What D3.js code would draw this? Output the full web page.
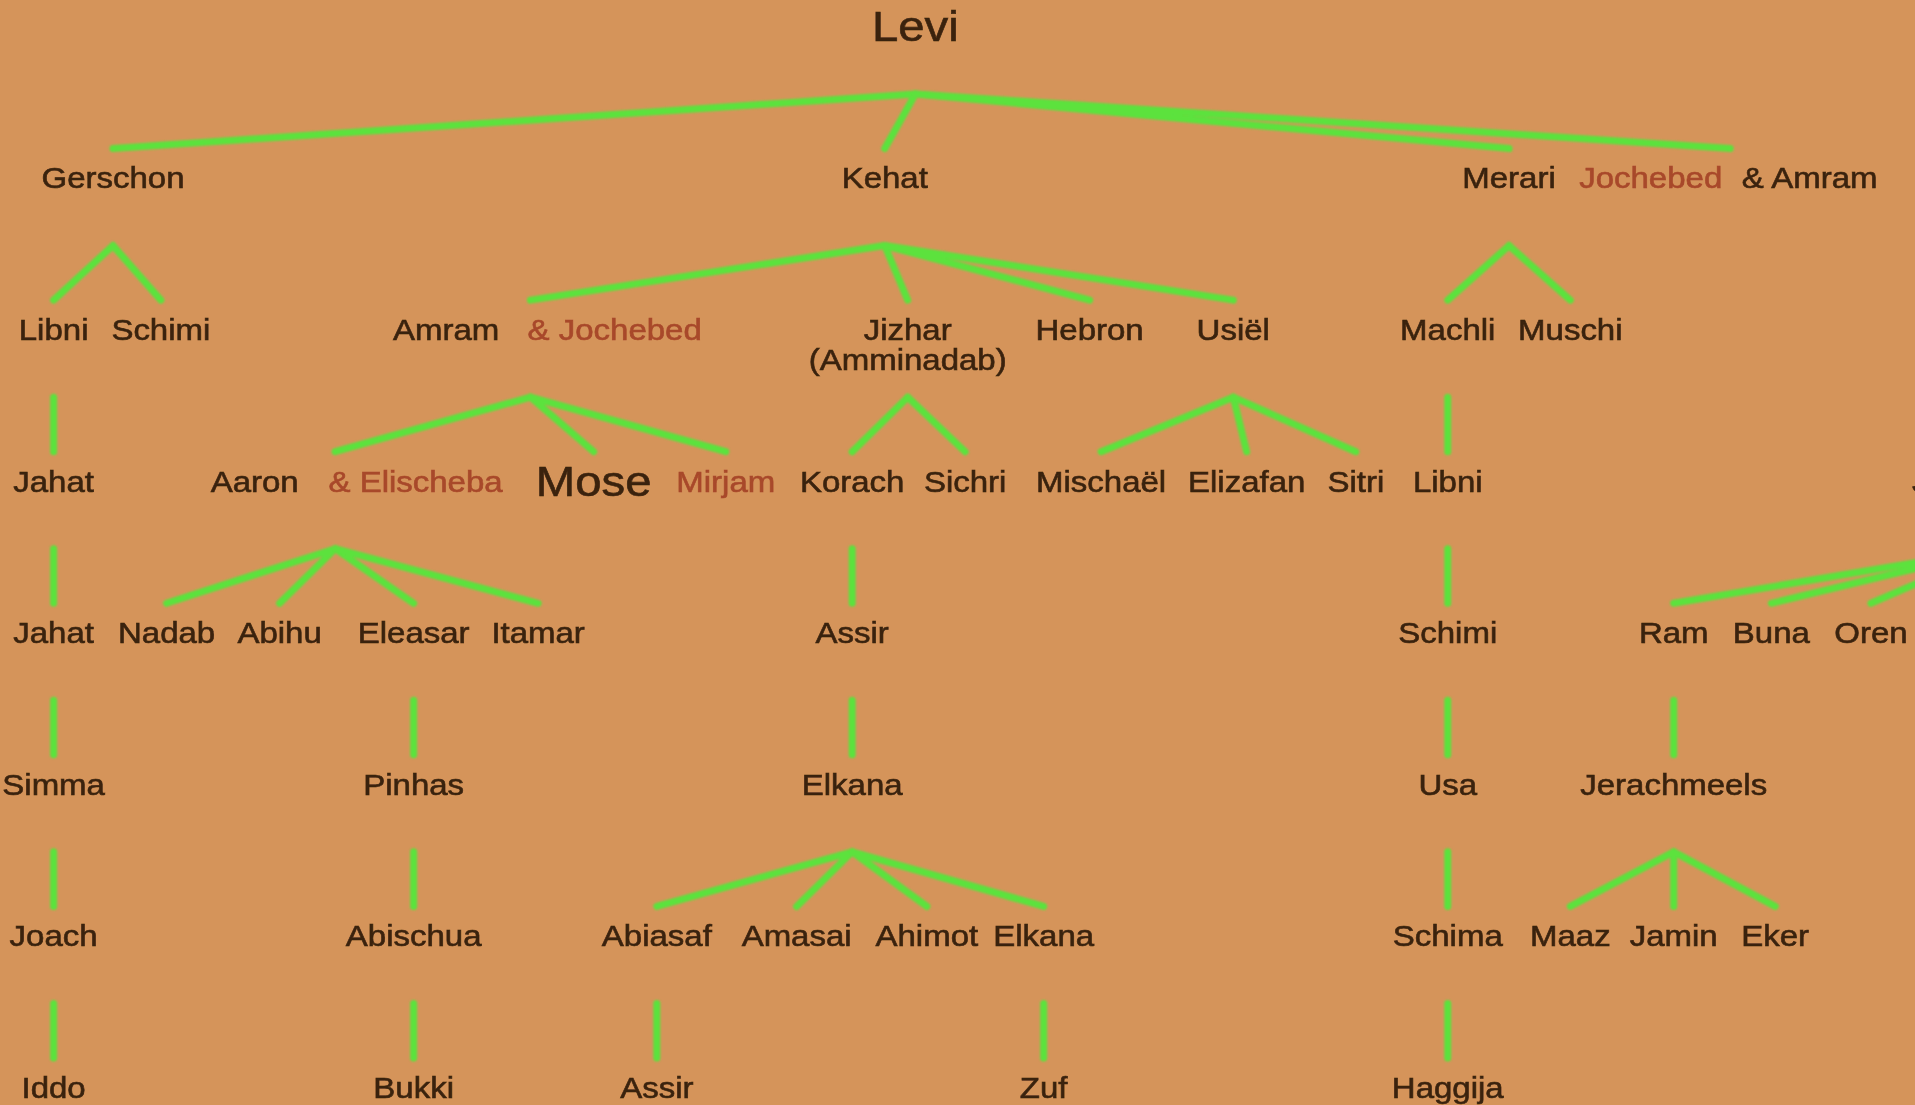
<!DOCTYPE html>
<head>
  <meta charset="utf-8">
  <script src="https://d3js.org/d3.v7.min.js"></script>
  <style>
    body { margin: 0; background: #d5945a; overflow: hidden; }
    text { font-family: "Liberation Sans", Arial, sans-serif; }
  </style>
</head>
<body>
<script>
  // names per generation, and where they sit across the page (0-100)
  var gen0 = ["Levi"];
  var col0 = [47.8];
  var gen1 = ["Gerschon", "Kehat", "Merari", "Jochebed", "& Amram"];
  var col1 = [5.9, 46.2, 78.8, 86.2, 94.5];
  var gen2 = ["Libni", "Schimi", "Amram", "& Jochebed", "Jizhar\n(Amminadab)", "Hebron", "Usiël", "Machli", "Muschi"];
  var col2 = [2.8, 8.4, 23.3, 32.1, 47.4, 56.9, 64.4, 75.6, 82.0];
  var gen3 = ["Jahat", "Aaron", "& Elischeba", "Mose", "Mirjam", "Korach", "Sichri", "Mischaël", "Elizafan", "Sitri", "Libni", "Jerachmeel"];
  var col3 = [2.8, 13.3, 21.7, 31.0, 37.9, 44.5, 50.4, 57.5, 65.1, 70.8, 75.6, 104.3];
  var gen4 = ["Jahat", "Nadab", "Abihu", "Eleasar", "Itamar", "Assir", "Schimi", "Ram", "Buna", "Oren"];
  var col4 = [2.8, 8.7, 14.6, 21.6, 28.1, 44.5, 75.6, 87.4, 92.5, 97.7];
  var gen5 = ["Simma", "Pinhas", "Elkana", "Usa", "Jerachmeels"];
  var col5 = [2.8, 21.6, 44.5, 75.6, 87.4];
  var gen6 = ["Joach", "Abischua", "Abiasaf", "Amasai", "Ahimot", "Elkana", "Schima", "Maaz", "Jamin", "Eker"];
  var col6 = [2.8, 21.6, 34.3, 41.6, 48.4, 54.5, 75.6, 82.0, 87.4, 92.7];
  var gen7 = ["Iddo", "Bukki", "Assir", "Zuf", "Haggija"];
  var col7 = [2.8, 21.6, 34.3, 54.5, 75.6];

  // parent index -> child index (next generation); [a,b] = couple
  var links0 = [[0, 0], [0, 1], [0, 2], [0, [3, 4]]];
  var links1 = [[0, 0], [0, 1], [1, [2, 3]], [1, 4], [1, 5], [1, 6], [2, 7], [2, 8]];
  var links2 = [[0, 0], [[2, 3], [1, 2]], [[2, 3], 3], [[2, 3], 4], [4, 5], [4, 6], [6, 7], [6, 8], [6, 9], [7, 10]];
  var links3 = [[0, 0], [[1, 2], 1], [[1, 2], 2], [[1, 2], 3], [[1, 2], 4], [5, 5], [10, 6], [11, 7], [11, 8], [11, 9]];
  var links4 = [[0, 0], [3, 1], [5, 2], [6, 3], [7, 4]];
  var links5 = [[0, 0], [1, 1], [2, 2], [2, 3], [2, 4], [2, 5], [3, 6], [4, 7], [4, 8], [4, 9]];
  var links6 = [[0, 0], [1, 1], [2, 2], [5, 3], [6, 4]];

  var spouses = ["Jochebed", "& Jochebed", "& Elischeba", "Mirjam"];
  var large = ["Levi", "Mose"];

  var gens = [gen0, gen1, gen2, gen3, gen4, gen5, gen6, gen7];
  var cols = [col0, col1, col2, col3, col4, col5, col6, col7];
  var linkSets = [links0, links1, links2, links3, links4, links5, links6];

  var width = 1915, height = 1105;

  var x = d3.scaleLinear().domain([0, 100]).range([0, width]);
  var y = d3.scaleLinear().domain([0, 7]).range([26, 1087]);

  var svg = d3.select("body").append("svg")
      .attr("width", width)
      .attr("height", height);

  var defs = svg.append("defs");
  defs.append("filter").attr("id", "softLine")
    .append("feGaussianBlur").attr("stdDeviation", 1.1);
  defs.append("filter").attr("id", "softText")
    .append("feGaussianBlur").attr("stdDeviation", 0.6);

  svg.append("rect")
      .attr("width", width)
      .attr("height", height)
      .attr("fill", "#d5945a");

  function posX(g, i) {
    if (Array.isArray(i)) return (x(cols[g][i[0]]) + x(cols[g][i[1]])) / 2;
    return x(cols[g][i]);
  }

  // flatten links into segments
  var segments = [];
  linkSets.forEach(function(set, g) {
    set.forEach(function(l) {
      segments.push({
        x1: posX(g, l[0]), y1: y(g) + 68,
        x2: posX(g + 1, l[1]), y2: y(g + 1) - 29
      });
    });
  });

  svg.append("g")
      .attr("filter", "url(#softLine)")
    .selectAll("line")
    .data(segments)
    .enter().append("line")
      .attr("x1", function(d) { return d.x1; })
      .attr("y1", function(d) { return d.y1; })
      .attr("x2", function(d) { return d.x2; })
      .attr("y2", function(d) { return d.y2; })
      .attr("stroke", "#5be23c")
      .attr("stroke-width", 7)
      .attr("stroke-linecap", "round");

  // flatten names
  var labels = [];
  gens.forEach(function(names, g) {
    names.forEach(function(n, i) {
      labels.push({ name: n, g: g, x: x(cols[g][i]), y: y(g) });
    });
  });

  var tg = svg.append("g").attr("filter", "url(#softText)");

  var label = tg.selectAll("text")
    .data(labels)
    .enter().append("text")
      .attr("text-anchor", "middle")
      .attr("font-size", function(d) { return large.indexOf(d.name) >= 0 ? 43 : 30; })
      .attr("fill", function(d) { return spouses.indexOf(d.name) >= 0 ? "#a8482a" : "#3a2311"; })
      .attr("stroke", function(d) { return spouses.indexOf(d.name) >= 0 ? "#a8482a" : "#3a2311"; })
      .attr("stroke-width", 0.6)
      .attr("transform", function(d) {
        var fs = large.indexOf(d.name) >= 0 ? 43 : 30;
        return "translate(" + d.x + "," + (d.y + fs * 0.36) + ") scale(1.1,1)";
      });

  label.each(function(d) {
    var parts = d.name.split("\n");
    var t = d3.select(this);
    parts.forEach(function(p, k) {
      t.append("tspan")
        .attr("x", 0)
        .attr("dy", k === 0 ? 0 : 30)
        .text(p);
    });
  });
</script>
</body>
